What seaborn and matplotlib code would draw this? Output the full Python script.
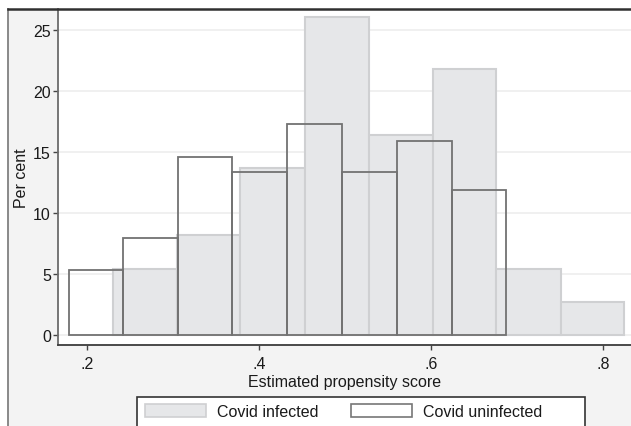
import numpy as np
import seaborn as sns
import matplotlib.pyplot as plt
from matplotlib.patches import Patch, Rectangle
from matplotlib.lines import Line2D

# Histogram bins (propensity score) and their heights (per cent)
infected_edges = [0.2306, 0.3048, 0.3779, 0.4535, 0.5279, 0.6027, 0.6756, 0.7508, 0.8244]
infected_pct = [5.4, 8.2, 13.7, 26.0, 16.4, 21.8, 5.4, 2.7]

uninfected_edges = [0.1791, 0.2420, 0.3058, 0.3690, 0.4329, 0.4965, 0.5605, 0.6241, 0.6869]
uninfected_pct = [5.3, 7.9, 14.6, 13.3, 17.3, 13.3, 15.9, 11.9]

x_ticks = [0.2, 0.4, 0.6, 0.8]
x_tick_labels = ['.2', '.4', '.6', '.8']
y_ticks = [0, 5, 10, 15, 20, 25]

plt.rcParams['font.family'] = ['Liberation Sans', 'DejaVu Sans']
FS = 11.5
W, H = 631, 427

fig = plt.figure(figsize=(W / 100, H / 100), dpi=100)
fig.patch.set_facecolor('white')

# outer graph region (light grey) with its frame lines
fig.add_artist(Rectangle((8 / W, 0), 1, 1 - 9.5 / H, transform=fig.transFigure,
                         facecolor='#f3f3f3', edgecolor='none', zorder=0))
fig.add_artist(Line2D([8 / W, 8 / W], [0, 1 - 9.5 / H], transform=fig.transFigure,
                      color='#808080', lw=1.3, zorder=1))
fig.add_artist(Line2D([8 / W, 1], [1 - 9.5 / H, 1 - 9.5 / H], transform=fig.transFigure,
                      color='#303030', lw=1.8, zorder=5))

ax = fig.add_axes([58 / W, 81 / H, 573 / W, 336 / H])
ax.set_facecolor('white')

inf_centers = [(a + b) / 2 for a, b in zip(infected_edges[:-1], infected_edges[1:])]
uninf_centers = [(a + b) / 2 for a, b in zip(uninfected_edges[:-1], uninfected_edges[1:])]

sns.histplot(x=inf_centers, weights=infected_pct, bins=infected_edges, stat='count',
             color='#e6e7e9', edgecolor='#cfd0d2', linewidth=1.5, alpha=1, ax=ax, zorder=2)
sns.histplot(x=uninf_centers, weights=uninfected_pct, bins=uninfected_edges, stat='count',
             fill=False, color='#727272', linewidth=1.3, ax=ax, zorder=3)

ax.set_xlim(0.1663, 0.8326)
ax.set_ylim(-0.82, 26.68)
ax.set_xticks(x_ticks)
ax.set_xticklabels(x_tick_labels)
ax.set_yticks(y_ticks)
ax.set_yticklabels([str(v) for v in y_ticks])

ax.yaxis.grid(True, color='#eeeeee', lw=1.2)
ax.xaxis.grid(False)
ax.set_axisbelow(True)

for s in ['top', 'right']:
    ax.spines[s].set_visible(False)
ax.spines['left'].set_color('#6b6b6b')
ax.spines['left'].set_linewidth(1.3)
ax.spines['bottom'].set_color('#3c3c3c')
ax.spines['bottom'].set_linewidth(1.3)

ax.tick_params(axis='x', length=3.6, width=1, color='#444444', pad=4.5, labelsize=FS, labelcolor='#1a1a1a')
ax.tick_params(axis='y', length=3.6, width=1, color='#444444', pad=1.5, labelsize=FS, labelcolor='#1a1a1a')

ax.set_xlabel('Estimated propensity score', fontsize=FS, color='#1a1a1a')
ax.set_ylabel('Per cent', fontsize=FS, color='#1a1a1a')
ax.xaxis.set_label_coords(0.5, -0.087)
ax.yaxis.set_label_coords(-0.050, 0.5)

# legend box
fig.add_artist(Rectangle((137 / W, -0.02), 448 / W, 0.02 + 1 - 398 / H, transform=fig.transFigure,
                         facecolor='white', edgecolor='#333333', lw=1.2, zorder=4))
handles = [Patch(facecolor='#e6e7e9', edgecolor='#cfd0d2', lw=1.2),
           Patch(facecolor='white', edgecolor='#777777', lw=1.2)]
fig.legend(handles, ['Covid infected', 'Covid uninfected'], ncol=2, frameon=False,
           loc='center left', bbox_to_anchor=(145 / W, 1 - 412.5 / H), borderaxespad=0,
           borderpad=0, fontsize=FS, handlelength=3.85, handleheight=0.93,
           handletextpad=0.68, columnspacing=2.0, labelcolor='#1a1a1a').set_zorder(6)

plt.savefig('out.png', dpi=100)
